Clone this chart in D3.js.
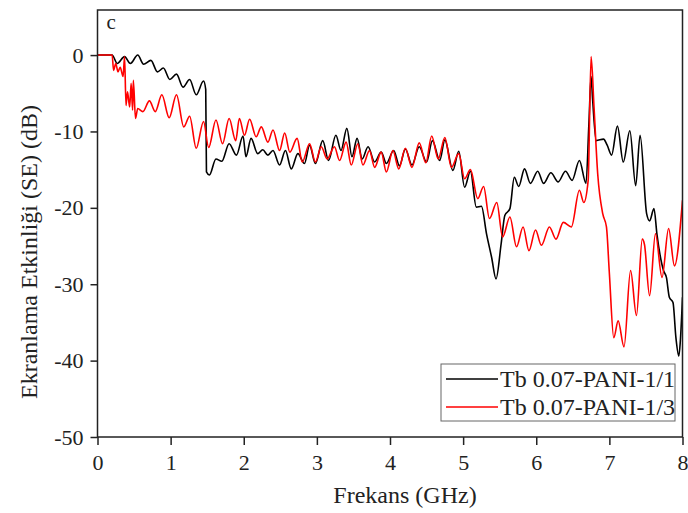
<!DOCTYPE html>
<html>
<head>
<meta charset="utf-8">
<script src="https://cdn.jsdelivr.net/npm/d3@7"></script>
<style>
  html, body { margin: 0; padding: 0; background: #fff; }
  svg { display: block; }
  text { font-family: "Liberation Serif", "Times New Roman", serif; fill: #222; }
</style>
</head>
<body>
<div id="chart"></div>
<script>
// x ticks (GHz) and y ticks (dB)
var xTicks = [0, 1, 2, 3, 4, 5, 6, 7, 8];
var yTicks = [0, -10, -20, -30, -40, -50];
var seriesNames = ['Tb 0.07-PANI-1/1', 'Tb 0.07-PANI-1/3'];
var seriesColors = ['#000000', '#ff0000'];

// Tb 0.07-PANI-1/1 : [GHz, dB]
var pani11 = [
  [0, 0], [0.2, 0], [0.27, -1.1], [0.37, -0.2], [0.45, -1.1], [0.55, 0], [0.63, -1.2],
  [0.73, -0.7], [0.82, -2.2], [0.9, -1.7], [0.99, -3.2], [1.08, -2.5], [1.17, -4.2],
  [1.26, -3.2], [1.35, -5.2], [1.45, -3.4], [1.48, -4.5], [1.49, -15.3], [1.53, -15.7],
  [1.62, -13.6], [1.7, -13.9], [1.8, -11.6], [1.9, -13.1], [1.99, -10.6], [2.03, -13.3],
  [2.1, -10.9], [2.19, -12.9], [2.26, -12.4], [2.33, -13.1], [2.4, -12.5], [2.49, -14.4],
  [2.57, -12.5], [2.65, -14.9], [2.74, -12.9], [2.83, -14.2], [2.9, -11.8], [2.98, -14.2],
  [3.08, -11.2], [3.16, -13.8], [3.26, -10.5], [3.33, -12.5], [3.41, -9.6], [3.48, -13.3],
  [3.55, -10.9], [3.62, -13.6], [3.7, -12.0], [3.79, -14.0], [3.88, -12.7], [3.95, -14.2],
  [4.05, -12.5], [4.13, -14.5], [4.21, -12.3], [4.3, -14.4], [4.4, -12.0], [4.5, -14.0],
  [4.58, -11.2], [4.68, -13.8], [4.75, -11.1], [4.86, -15.1], [4.94, -12.6], [5.02, -17.3],
  [5.1, -15.2], [5.18, -19.9], [5.25, -19.8], [5.32, -23.4], [5.39, -26.5], [5.45, -29.3],
  [5.52, -24.7], [5.57, -21.0], [5.64, -20.1], [5.7, -16.0], [5.76, -17.2], [5.84, -14.9],
  [5.92, -16.8], [6.02, -15.2], [6.1, -16.8], [6.2, -15.4], [6.3, -16.6], [6.4, -15.2],
  [6.49, -16.4], [6.59, -13.8], [6.68, -16.8], [6.72, -9.0], [6.75, -2.8], [6.77, -5.7],
  [6.82, -11.2], [6.92, -11.0], [6.97, -11.8], [7.03, -13.1], [7.11, -9.3], [7.19, -14.0],
  [7.28, -9.9], [7.36, -17.1], [7.42, -10.5], [7.51, -20.8], [7.55, -21.7], [7.61, -20.1],
  [7.65, -23.4], [7.69, -26.0], [7.74, -28.2], [7.78, -29.1], [7.82, -31.7], [7.87, -32.4],
  [7.91, -37.0], [7.95, -39.4], [7.97, -37.5], [8.0, -31.7]
];

// Tb 0.07-PANI-1/3 : [GHz, dB]
var pani13 = [
  [0, 0], [0.2, 0], [0.22, -2.0], [0.25, -1.1], [0.28, -2.2], [0.31, -1.6], [0.35, -2.8],
  [0.37, -0.2], [0.39, -6.6], [0.41, -4.8], [0.44, -6.8], [0.46, -3.7], [0.48, -7.2],
  [0.49, -3.3], [0.52, -8.3], [0.55, -7.0], [0.62, -7.4], [0.71, -6.0], [0.79, -7.4],
  [0.88, -5.2], [0.98, -8.2], [1.08, -5.2], [1.18, -9.4], [1.26, -8.0], [1.35, -12.2],
  [1.45, -8.7], [1.52, -12.1], [1.62, -8.5], [1.71, -11.6], [1.8, -8.3], [1.89, -11.2],
  [1.94, -8.3], [2.01, -10.5], [2.08, -8.4], [2.17, -10.7], [2.24, -9.4], [2.33, -11.4],
  [2.4, -9.8], [2.49, -12.5], [2.56, -10.2], [2.63, -12.7], [2.73, -10.9], [2.8, -14.0],
  [2.9, -11.6], [2.98, -14.0], [3.06, -12.0], [3.14, -13.6], [3.24, -12.0], [3.31, -13.8],
  [3.4, -11.4], [3.47, -14.4], [3.56, -11.6], [3.63, -14.4], [3.72, -12.5], [3.79, -14.7],
  [3.88, -12.7], [3.95, -15.3], [4.04, -12.5], [4.12, -14.9], [4.21, -12.2], [4.3, -14.7],
  [4.4, -11.5], [4.49, -14.1], [4.57, -10.6], [4.66, -13.6], [4.75, -10.8], [4.84, -14.7],
  [4.94, -12.9], [5.02, -16.2], [5.1, -15.0], [5.2, -18.8], [5.28, -17.2], [5.36, -21.4],
  [5.46, -19.3], [5.54, -23.8], [5.64, -21.2], [5.73, -25.1], [5.82, -22.5], [5.9, -25.6],
  [5.99, -22.9], [6.07, -24.9], [6.18, -22.5], [6.27, -24.1], [6.37, -21.9], [6.48, -22.5],
  [6.59, -17.7], [6.65, -19.3], [6.71, -16.4], [6.75, -0.2], [6.79, -6.8], [6.84, -15.5],
  [6.91, -20.8], [6.96, -22.5], [7.0, -28.6], [7.06, -37.0], [7.12, -34.8], [7.2, -38.2],
  [7.29, -28.2], [7.37, -34.1], [7.45, -24.1], [7.48, -24.8], [7.55, -31.5], [7.63, -23.4],
  [7.72, -29.1], [7.81, -22.7], [7.89, -27.6], [8.0, -19.0]
];

var W = 688, H = 513;
var margin = { left: 97.5, right: 5.5, top: 10, bottom: 76 };
var iw = W - margin.left - margin.right;
var ih = H - margin.top - margin.bottom;
var serif = '"Liberation Serif", "Times New Roman", serif';

var svg = d3.select('#chart').append('svg')
  .attr('width', W).attr('height', H);

var g = svg.append('g')
  .attr('transform', 'translate(' + margin.left + ',' + margin.top + ')');

var x = d3.scaleLinear().domain([0, 8]).range([0, iw]);
var y = d3.scaleLinear().domain([-50, 5.9]).range([ih, 0]);

// clip for lines
svg.append('defs').append('clipPath').attr('id', 'plotclip')
  .append('rect').attr('width', iw).attr('height', ih);

var line = d3.line()
  .x(function (d) { return x(d[0]); })
  .y(function (d) { return y(d[1]); })
  .curve(d3.curveMonotoneX);

var lines = g.append('g').attr('clip-path', 'url(#plotclip)');
[pani11, pani13].forEach(function (s, i) {
  lines.append('path')
    .datum(s)
    .attr('fill', 'none')
    .attr('stroke', seriesColors[i])
    .attr('stroke-width', 1.6)
    .attr('stroke-linejoin', 'round')
    .attr('d', line);
});

// frame
g.append('rect')
  .attr('width', iw).attr('height', ih)
  .attr('fill', 'none').attr('stroke', '#222').attr('stroke-width', 1.5);

// axes — plain hyphen for negatives, like the original
var fmt = function (d) { return String(d); };
var xAxis = g.append('g')
  .attr('transform', 'translate(0,' + ih + ')')
  .call(d3.axisBottom(x).tickValues(xTicks).tickSize(8).tickPadding(9).tickFormat(fmt));
var yAxis = g.append('g')
  .call(d3.axisLeft(y).tickValues(yTicks).tickSize(7).tickPadding(7).tickFormat(fmt));

[xAxis, yAxis].forEach(function (a) {
  a.select('.domain').remove();
  a.selectAll('line').attr('stroke', '#222').attr('stroke-width', 1.5);
  a.selectAll('text')
    .style('font-family', serif)
    .style('font-size', '22px').attr('fill', '#222');
});

// axis titles
svg.append('text')
  .attr('x', 405).attr('y', 503)
  .attr('text-anchor', 'middle')
  .style('font-size', '24px')
  .text('Frekans (GHz)');

svg.append('text')
  .attr('transform', 'translate(37,252) rotate(-90)')
  .attr('text-anchor', 'middle')
  .style('font-size', '24px')
  .text('Ekranlama Etkinliği (SE) (dB)');

// panel letter
g.append('text')
  .attr('x', 9).attr('y', 19)
  .style('font-size', '21px')
  .text('c');

// legend
var lg = svg.append('g').attr('transform', 'translate(441,364)');
lg.append('rect')
  .attr('width', 234).attr('height', 57)
  .attr('fill', '#fff').attr('stroke', '#666').attr('stroke-width', 1);
seriesNames.forEach(function (name, i) {
  var yy = 15 + i * 28;
  lg.append('line')
    .attr('x1', 5).attr('x2', 57).attr('y1', yy).attr('y2', yy)
    .attr('stroke', seriesColors[i]).attr('stroke-width', 1.6);
  lg.append('text')
    .attr('x', 59).attr('y', yy).attr('dy', '0.35em')
    .style('font-size', '24px')
    .text(name);
});
</script>
</body>
</html>
